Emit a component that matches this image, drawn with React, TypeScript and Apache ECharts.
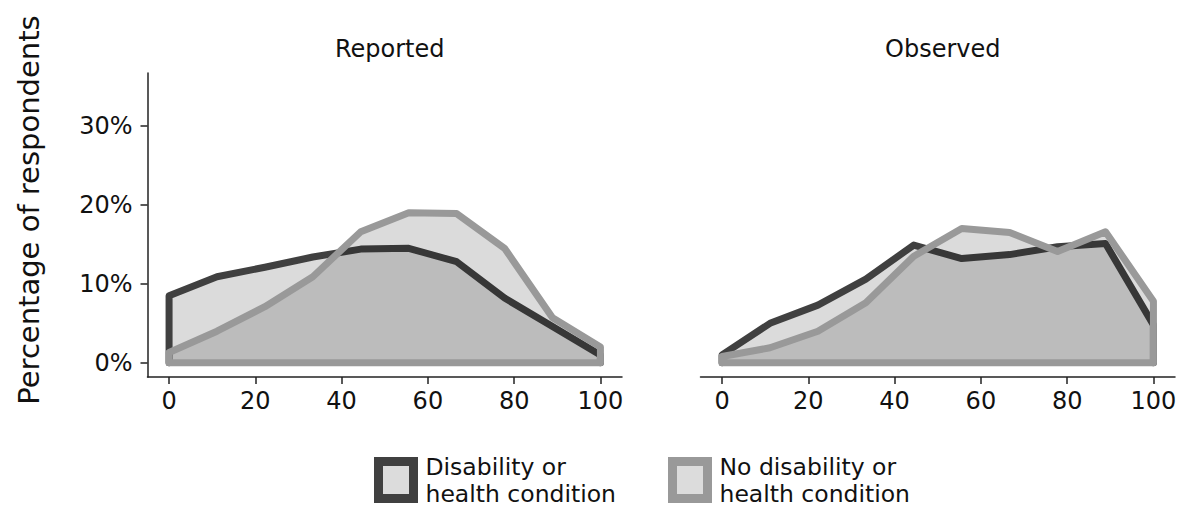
import React, { useEffect, useRef } from "react";
import * as echarts from "echarts";

// Score positions along the x axis (0–100 scale, ten bins)
const scorePoints = [0, 11.11, 22.22, 33.33, 44.44, 55.56, 66.67, 77.78, 88.89, 100];

// Percentage of respondents at each score
const reportedDisability = [8.5, 10.9, 12.1, 13.4, 14.4, 14.5, 12.8, 8.2, 4.6, 1.0];
const reportedNoDisability = [1.3, 4.0, 7.1, 10.9, 16.6, 19.0, 18.9, 14.5, 5.7, 2.0];
const observedDisability = [1.0, 5.0, 7.3, 10.6, 14.9, 13.2, 13.7, 14.7, 15.1, 4.8];
const observedNoDisability = [0.8, 1.9, 4.0, 7.6, 13.5, 17.0, 16.5, 14.1, 16.6, 7.8];

const panelTitles = ["Reported", "Observed"];
const groupNames = ["Disability or\nhealth condition", "No disability or\nhealth condition"];
const xTicks = [0, 20, 40, 60, 80, 100];
const yTicks = [0, 10, 20, 30];

const FONT = "DejaVu Sans";
const DARK = "#404040";
const LIGHT = "#999999";
const FILL = "rgba(0,0,0,0.14)";
const AXIS = "#222222";

// Closed outline: baseline at the first score, up through the values,
// down to the baseline at the last score.
const outlinePoints = (vals: number[]) => [
  [scorePoints[0], 0],
  ...vals.map((v, i) => [scorePoints[i], v]),
  [scorePoints[scorePoints.length - 1], 0],
];

// Filled area with a thick outline; the lower group's baseline edge is left
// to the upper group's outline, which lies on the same line.
function areaSeries(vals: number[], idx: number, color: string, z: number, strokeBaseline: boolean) {
  const pts = outlinePoints(vals);
  return {
    type: "custom",
    coordinateSystem: "cartesian2d",
    xAxisIndex: idx,
    yAxisIndex: idx,
    data: pts,
    encode: { x: 0, y: 1 },
    clip: false,
    silent: true,
    z,
    renderItem: (params: any, api: any) => {
      if (params.dataIndex !== 0) return null;
      const coords = pts.map((p) => api.coord(p));
      const edge = strokeBaseline ? [...coords, coords[0]] : coords;
      return {
        type: "group",
        children: [
          {
            type: "polygon",
            shape: { points: coords },
            style: { fill: FILL, stroke: "none" },
          },
          {
            type: "polyline",
            shape: { points: edge },
            style: {
              fill: "none",
              stroke: color,
              lineWidth: 7,
              lineJoin: "round",
              lineCap: "round",
            },
          },
        ],
      };
    },
  };
}

export default function App() {
  const ref = useRef<HTMLDivElement>(null);

  useEffect(() => {
    if (!ref.current) return;
    const chart = echarts.init(ref.current, undefined, { renderer: "svg" });

    const grids = [
      { left: 147.5, top: 73, width: 474.5, height: 304 },
      { left: 700.5, top: 73, width: 474.5, height: 304 },
    ];

    const xAxisBase = (idx: number) => ({
      type: "value",
      gridIndex: idx,
      min: -5,
      max: 105,
      splitLine: { show: false },
      axisLine: { show: true, onZero: false, lineStyle: { color: AXIS, width: 1.5 } },
      axisTick: { show: true, length: 7, lineStyle: { color: AXIS, width: 1.5 }, customValues: xTicks },
      axisLabel: {
        show: true,
        customValues: xTicks,
        color: "#111",
        fontFamily: FONT,
        fontSize: 24,
        margin: 12,
      },
    });

    const yAxisBase = (idx: number) => ({
      type: "value",
      gridIndex: idx,
      min: -1.8,
      max: 36.7,
      splitLine: { show: false },
      axisLine: { show: idx === 0, onZero: false, lineStyle: { color: AXIS, width: 1.5 } },
      axisTick: { show: idx === 0, length: 7, lineStyle: { color: AXIS, width: 1.5 }, customValues: yTicks },
      axisLabel: {
        show: idx === 0,
        customValues: yTicks,
        formatter: "{value}%",
        color: "#111",
        fontFamily: FONT,
        fontSize: 24,
        margin: 15,
      },
    });

    const legendItems = groupNames.flatMap((name, i) => {
      const bx = i === 0 ? 378.5 : 672.5;
      const color = i === 0 ? DARK : LIGHT;
      return [
        {
          type: "rect",
          shape: { x: bx, y: 461.5, width: 35, height: 37 },
          style: { fill: "#dcdcdc", stroke: color, lineWidth: 9 },
          silent: true,
        },
        {
          type: "text",
          x: bx + 47,
          y: 480,
          style: {
            text: name,
            fill: "#111",
            font: `23.5px '${FONT}'`,
            lineHeight: 27,
            textAlign: "left",
            textVerticalAlign: "middle",
          },
          silent: true,
        },
      ];
    });

    chart.setOption({
      animation: false,
      backgroundColor: "#ffffff",
      title: panelTitles.map((t, i) => ({
        text: t,
        left: grids[i].left + grids[i].width / 2,
        top: 32,
        textAlign: "center",
        textStyle: { fontFamily: FONT, fontSize: 24, fontWeight: "normal", color: "#111" },
      })),
      grid: grids,
      xAxis: [xAxisBase(0), xAxisBase(1)],
      yAxis: [yAxisBase(0), yAxisBase(1)],
      series: [
        areaSeries(reportedDisability, 0, DARK, 3, false),
        areaSeries(reportedNoDisability, 0, LIGHT, 4, true),
        areaSeries(observedDisability, 1, DARK, 3, false),
        areaSeries(observedNoDisability, 1, LIGHT, 4, true),
      ],
      graphic: [
        {
          type: "text",
          x: 29,
          y: 210,
          rotation: Math.PI / 2,
          style: {
            text: "Percentage of respondents",
            fill: "#111",
            font: `29px '${FONT}'`,
            textAlign: "center",
            textVerticalAlign: "middle",
          },
          silent: true,
        },
        ...legendItems,
      ],
    });

    return () => chart.dispose();
  }, []);

  return (
    <div
      ref={ref}
      style={{ position: "fixed", left: 0, top: 0, width: 1187, height: 511 }}
    />
  );
}
